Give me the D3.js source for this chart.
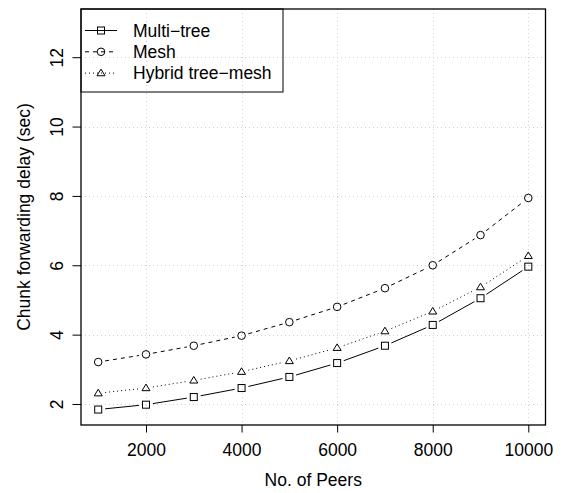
<!DOCTYPE html>
<html>
<head>
<meta charset="utf-8">
<script src="https://cdn.jsdelivr.net/npm/d3@7"></script>
<style>
  html, body { margin: 0; padding: 0; background: #fff; }
  text { font-family: "Liberation Sans", Arial, Helvetica, sans-serif; fill: #000; }
</style>
</head>
<body>
<svg id="chart" width="563" height="493"></svg>
<script>
// ---- data ----
const peers = [1000, 2000, 3000, 4000, 5000, 6000, 7000, 8000, 9000, 10000];
const multiTree = [1.84, 1.98, 2.20, 2.46, 2.78, 3.18, 3.68, 4.28, 5.05, 5.96];
const mesh      = [3.21, 3.43, 3.68, 3.97, 4.36, 4.80, 5.34, 6.00, 6.87, 7.94];
const hybrid    = [2.31, 2.46, 2.68, 2.93, 3.24, 3.62, 4.10, 4.67, 5.37, 6.27];
const xTicks = [2000, 4000, 6000, 8000, 10000];
const yTicks = [2, 4, 6, 8, 10, 12];
const seriesNames = ["Multi\u2212tree", "Mesh", "Hybrid tree\u2212mesh"];
const xTitle = "No. of Peers";
const yTitle = "Chunk forwarding delay (sec)";

const series = [
  { name: seriesNames[0], values: multiTree, dash: null, shape: "square" },
  { name: seriesNames[1], values: mesh, dash: "4,4", shape: "circle" },
  { name: seriesNames[2], values: hybrid, dash: "1,3", shape: "triangle" }
];

// ---- layout ----
const FS = 17.5;
const svg = d3.select("#chart");
const plot = { left: 81, right: 545.5, top: 9, bottom: 425 };
const x = d3.scaleLinear().domain([640, 10360]).range([plot.left, plot.right]);
const y = d3.scaleLinear().domain([1.394, 13.39]).range([plot.bottom, plot.top]);

// grid
const grid = svg.append("g").attr("stroke", "#d0d0d0").attr("stroke-width", 1).attr("stroke-dasharray", "1,3");
grid.selectAll("line.v").data(xTicks).join("line")
  .attr("x1", d => Math.round(x(d)) + 0.5).attr("x2", d => Math.round(x(d)) + 0.5)
  .attr("y1", plot.top).attr("y2", plot.bottom);
grid.selectAll("line.h").data(yTicks).join("line")
  .attr("y1", d => Math.round(y(d)) + 0.5).attr("y2", d => Math.round(y(d)) + 0.5)
  .attr("x1", plot.left).attr("x2", plot.right);

// axes
const xAxis = d3.axisBottom(x).tickValues(xTicks).tickSize(7.5).tickFormat(d3.format("d"));
const gx = svg.append("g").attr("transform", `translate(0,${plot.bottom})`).call(xAxis);
gx.select(".domain").remove();
gx.selectAll("text").attr("font-size", FS).style("font-family", "Liberation Sans, Arial, sans-serif")
  .attr("y", 31).attr("dy", null);
gx.selectAll("line").attr("stroke", "#000");

const yAxis = d3.axisLeft(y).tickValues(yTicks).tickSize(8.5).tickFormat(d3.format("d"));
const gy = svg.append("g").attr("transform", `translate(${plot.left},0)`).call(yAxis);
gy.select(".domain").remove();
gy.selectAll("line").attr("stroke", "#000");
gy.selectAll("text")
  .attr("font-size", FS).style("font-family", "Liberation Sans, Arial, sans-serif")
  .attr("x", null).attr("dy", null)
  .attr("text-anchor", "middle")
  .attr("transform", "translate(-18.5,0) rotate(-90)");

// box
svg.append("rect").attr("x", plot.left).attr("y", plot.top)
  .attr("width", plot.right - plot.left).attr("height", plot.bottom - plot.top)
  .attr("fill", "none").attr("stroke", "#000").attr("stroke-width", 1.3);

// titles
svg.append("text").attr("x", (plot.left + plot.right) / 2).attr("y", 486)
  .attr("text-anchor", "middle").attr("font-size", FS).text(xTitle);
svg.append("text").attr("transform", `translate(30,${(plot.top + plot.bottom) / 2}) rotate(-90)`)
  .attr("text-anchor", "middle").attr("font-size", FS).text(yTitle);

// symbols
function drawSymbol(g, shape, cx, cy) {
  if (shape === "square") {
    g.append("rect").attr("x", cx - 3.5).attr("y", cy - 3.5).attr("width", 7).attr("height", 7)
      .attr("fill", "none").attr("stroke", "#000").attr("stroke-width", 1);
  } else if (shape === "circle") {
    g.append("circle").attr("cx", cx).attr("cy", cy).attr("r", 3.8)
      .attr("fill", "none").attr("stroke", "#000").attr("stroke-width", 1);
  } else {
    const h = 6.6, w = 8;
    g.append("path").attr("d", `M${cx},${cy - h * 0.6}L${cx + w / 2},${cy + h * 0.4}L${cx - w / 2},${cy + h * 0.4}Z`)
      .attr("fill", "none").attr("stroke", "#000").attr("stroke-width", 1);
  }
}

// series: type "b" (gaps around points)
const gap = 7;
series.forEach(s => {
  const g = svg.append("g");
  const pts = peers.map((p, i) => [x(p), y(s.values[i])]);
  for (let i = 0; i < pts.length - 1; i++) {
    const [x1, y1] = pts[i], [x2, y2] = pts[i + 1];
    const dx = x2 - x1, dy = y2 - y1, len = Math.hypot(dx, dy);
    if (len <= 2 * gap) continue;
    const ux = dx / len, uy = dy / len;
    const ln = g.append("line")
      .attr("x1", x1 + ux * gap).attr("y1", y1 + uy * gap)
      .attr("x2", x2 - ux * gap).attr("y2", y2 - uy * gap)
      .attr("stroke", "#000").attr("stroke-width", 1);
    if (s.dash) ln.attr("stroke-dasharray", s.dash);
  }
  pts.forEach(([px, py]) => drawSymbol(g, s.shape, px, py));
});

// legend
const legend = svg.append("g");
legend.append("rect").attr("x", plot.left).attr("y", plot.top).attr("width", 202).attr("height", 83)
  .attr("fill", "none").attr("stroke", "#000").attr("stroke-width", 1);
series.forEach((s, i) => {
  const cy = 30.5 + i * 21.3;
  const ln = legend.append("line").attr("x1", 85).attr("x2", 117).attr("y1", cy).attr("y2", cy)
    .attr("stroke", "#000").attr("stroke-width", 1);
  if (s.dash) ln.attr("stroke-dasharray", s.dash);
  drawSymbol(legend, s.shape, 101, cy);
  legend.append("text").attr("x", 133).attr("y", cy + 6.3).attr("font-size", FS).text(s.name);
});
</script>
</body>
</html>
